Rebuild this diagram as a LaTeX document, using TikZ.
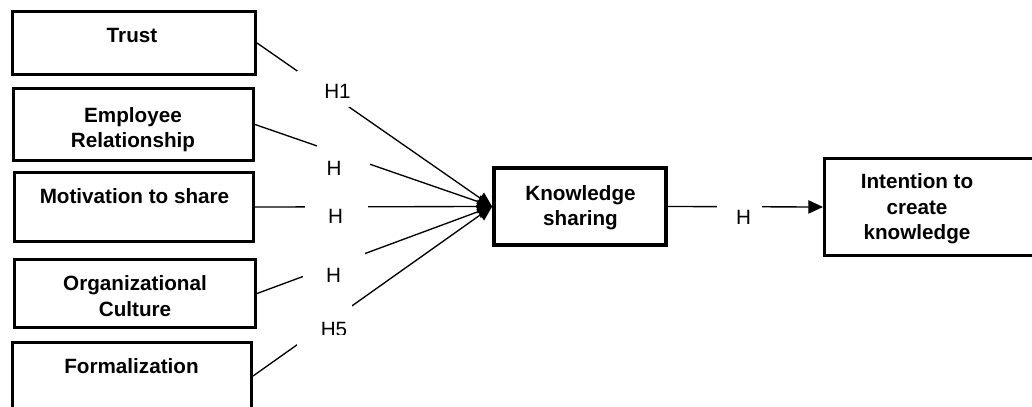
\documentclass[tikz,border=0pt]{standalone}
\usepackage{fontspec}
\setmainfont{Liberation Sans}
\usetikzlibrary{arrows.meta}
\def\px{0.75pt}
\begin{document}
\begin{tikzpicture}[x=0.75pt,y=-0.75pt,
  box/.style={draw, line width=2.3pt, inner sep=0pt},
  txt/.style={font=\bfseries\fontsize{15.5}{19}\selectfont, align=center, inner sep=0pt},
  hyp/.style={font=\fontsize{15.5}{19}\selectfont, inner sep=0pt, anchor=base},
  conn/.style={line width=1pt, -{Triangle[length=11pt,width=10pt]}},
  gap/.style={fill=white}]
\useasboundingbox (0,0) rectangle (1032,407);
\clip (0,0) rectangle (1032,407);
% boxes
\node[box, minimum width=243*\px, minimum height=63*\px] (trust) at (134,43) {};
\node[box, minimum width=240*\px, minimum height=72*\px] (emp) at (133.5,124.5) {};
\node[box, minimum width=239*\px, minimum height=69*\px] (mot) at (134,207) {};
\node[box, minimum width=241*\px, minimum height=68*\px] (org) at (135,293.5) {};
\node[box, minimum width=239*\px, minimum height=67*\px] (form) at (132,376) {};
\node[box, line width=2.8pt, minimum width=172*\px, minimum height=77*\px] (ks) at (580,206.5) {};
\node[box, minimum width=230*\px, minimum height=97*\px] (int) at (939.5,207) {};
% box texts
\node[txt, anchor=base] (trustt) at (132,42) {Trust};
\node[txt] (empt) at (133,129.4) {Employee\\Relationship};
\node[txt, anchor=base] (mott) at (134.5,203) {Motivation to share};
\node[txt] (orgt) at (135,296.2) {Organizational\\Culture};
\node[txt, anchor=base] (formt) at (131.5,373) {Formalization};
\node[txt] (kst) at (580.5,207.4) {Knowledge\\sharing};
\node[txt] (intt) at (917,209) {Intention to\\create\\knowledge};
% connectors
\draw[conn] (trust.east) -- (ks.west);
\draw[conn] (emp.east) -- (ks.west);
\draw[conn] (mot.east) -- (ks.west);
\draw[conn] (org.east) -- (ks.west);
\draw[conn] (form.east) -- (ks.west);
\draw[conn] (ks.east) -- (int.west);
% label gaps
\fill[gap] (297,71) rectangle (350,107);
\fill[gap] (317,140) rectangle (370,180);
\fill[gap] (305,198) rectangle (368,230);
\fill[gap] (303,250) rectangle (365,290);
\fill[gap] (297,305) rectangle (352,350);
\fill[gap] (717,195) rectangle (762,230);
% labels
\node[hyp] (h1) at (337.5,98) {H1};
\node[hyp] (h2) at (334,175) {H};
\node[hyp] (h3) at (335.5,223) {H};
\node[hyp] (h4) at (333.5,282) {H};
\begin{scope}
\clip (300,315) rectangle (360,334);
\node[hyp] (h5) at (334,336) {H5};
\end{scope}
\node[hyp] (h6) at (743.5,224) {H};
\end{tikzpicture}
\end{document}
